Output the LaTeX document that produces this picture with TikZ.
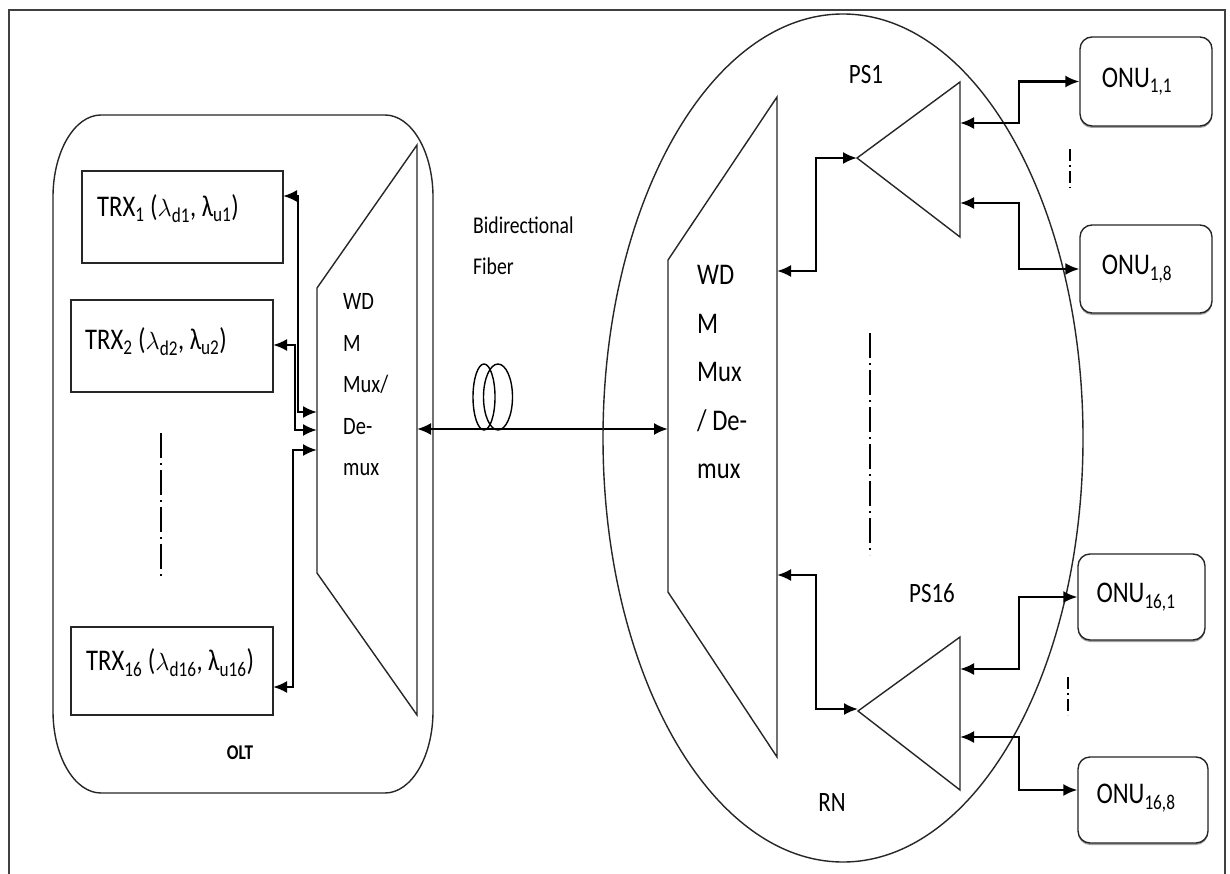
\documentclass[tikz,border=0pt]{standalone}
\usepackage{fontspec}
\setmainfont{Carlito}[FakeStretch=0.82]
\usetikzlibrary{arrows.meta,calc,shadows}
\newcommand{\fsz}[1]{\fontsize{#1}{#1}\selectfont}
\begin{document}
\begin{tikzpicture}[x=1pt,y=-1pt,
  shp/.style={draw=black!85, line width=1.4pt},
  trxbox/.style={draw=black!85, line width=1.4pt, inner sep=0pt},
  onubox/.style={draw=black!85, fill=white, line width=1.4pt, rounded corners=12pt, inner sep=0pt,
     drop shadow={shadow xshift=0pt, shadow yshift=-2pt, opacity=0.6, fill=black!60}},
  conn/.style={line width=2.2pt, {Latex[length=14pt,width=12pt]}-{Latex[length=14pt,width=12pt]}},
  dotline/.style={line width=1.4pt, dash pattern=on 25pt off 5pt on 2pt off 5pt},
  dotshort/.style={line width=1.4pt, dash pattern=on 12pt off 4pt on 2pt off 4pt},
  lbl/.style={inner sep=0pt}
]
\useasboundingbox (0,0) rectangle (1230,874);
\fill[white] (0,0) rectangle (1230,874);
% outer frame
\draw[line width=1.4pt, black!75] (9,874) -- (9,10) -- (1225,10) -- (1225,874);

% ---------------- OLT ----------------
\draw[shp] (53,197) arc[start angle=180, end angle=270, x radius=48, y radius=82]
  -- (385,115) arc[start angle=270, end angle=360, x radius=48, y radius=82]
  -- (433,711) arc[start angle=0, end angle=90, x radius=48, y radius=82]
  -- (101,793) arc[start angle=90, end angle=180, x radius=48, y radius=82] -- cycle;
\node[lbl, font=\bfseries\fsz{21}] (olt) at (240,753) {OLT};

\node[trxbox, minimum width=201pt, minimum height=92pt] (trx1) at (182.5,217) {};
\node[trxbox, minimum width=202pt, minimum height=92pt] (trx2) at (172,346) {};
\node[trxbox, minimum width=202pt, minimum height=88pt] (trx16) at (172,671) {};
\node[lbl, anchor=west, font=\fsz{30}] (trx1t) at (97,209) {TRX\textsubscript{1} ($\lambda$\textsubscript{d1}, λ\textsubscript{u1})};
\node[lbl, anchor=west, font=\fsz{30}] (trx2t) at (85,342) {TRX\textsubscript{2} ($\lambda$\textsubscript{d2}, λ\textsubscript{u2})};
\node[lbl, anchor=west, font=\fsz{30}] (trx16t) at (86,663) {TRX\textsubscript{16} ($\lambda$\textsubscript{d16}, λ\textsubscript{u16})};
\draw[dotline] (161,433) -- (161,577);

% OLT WDM
\draw[shp] (317,288) -- (417,145) -- (417,715) -- (317,573) -- cycle;
\node[lbl, anchor=west, align=left, font=\fontsize{25}{41.5}\selectfont] (wdml) at (343,385) {WD\\M\\Mux/\\De-\\mux};

\coordinate (t1p) at (283,196);
\coordinate (t2p) at (273,345);
\coordinate (t16p) at (273,687);
\coordinate (wl1) at (317,412);
\coordinate (wl2) at (317,430);
\coordinate (wl16) at (317,450);
\coordinate (wr) at (417,429);
\draw[conn] (t1p) -- ++(15,0) |- (wl1);
\draw[conn] (t2p) -- ++(22,0) |- (wl2);
\draw[conn] (t16p) -- ++(20,0) |- (wl16);

% ---------------- Fiber ----------------
\node[lbl, anchor=west, align=left, font=\fontsize{24}{41}\selectfont] (fib) at (473,246) {Bidirectional\\Fiber};
\coordinate (rl) at (668,429);
\draw[conn] (wr) -- (rl);
\draw[line width=1.4pt] (484,397) ellipse[x radius=11, y radius=33];
\draw[line width=1.4pt] (498,397) ellipse[x radius=14.5, y radius=33];

% ---------------- RN ----------------
\draw[line width=1.4pt, black!85] (843,438) ellipse[x radius=240, y radius=424];
\node[lbl, font=\fsz{28}] (rn) at (832,803) {RN};
\draw[shp] (668,260) -- (777,97) -- (777,757) -- (668,592) -- cycle;
\node[lbl, anchor=west, align=left, font=\fontsize{30}{48.5}\selectfont] (wdmr) at (697,372) {WD\\M\\Mux\\/ De-\\mux};
\draw[dotline] (870,333) -- (870,555);

% splitters
\draw[shp] (857,158) -- (960,82) -- (960,237) -- cycle;
\draw[shp] (858,711) -- (960,637) -- (960,790) -- cycle;
\node[lbl, font=\fsz{28}] (ps1) at (866,75) {PS1};
\node[lbl, font=\fsz{28}] (ps16) at (932,593) {PS16};

\coordinate (rr1) at (777,271);
\coordinate (rr16) at (777,575);
\coordinate (ps1in) at (857,158);
\coordinate (ps16in) at (858,709);
\coordinate (p1a) at (960,123);
\coordinate (p1b) at (960,203);
\coordinate (p16a) at (960,669);
\coordinate (p16b) at (960,737);
\draw[conn] (rr1) -- ++(39,0) |- (ps1in);
\draw[conn] (rr16) -- ++(39,0) |- (ps16in);

% ONUs
\node[onubox, minimum width=132pt, minimum height=89pt] (onu11) at (1146,81.5) {};
\node[onubox, minimum width=132pt, minimum height=88pt] (onu18) at (1146,269) {};
\node[onubox, minimum width=127pt, minimum height=86pt] (onu161) at (1141.5,597) {};
\node[onubox, minimum width=130pt, minimum height=86pt] (onu168) at (1143,800) {};
\node[lbl, font=\fsz{30}] (onu11t) at (1137,82) {ONU\textsubscript{1,1}};
\node[lbl, font=\fsz{30}] (onu18t) at (1137,269) {ONU\textsubscript{1,8}};
\node[lbl, font=\fsz{30}] (onu161t) at (1136,597) {ONU\textsubscript{16,1}};
\node[lbl, font=\fsz{30}] (onu168t) at (1136,798) {ONU\textsubscript{16,8}};
\coordinate (o168) at ($(onu168.west)+(0,-10)$);
\draw[conn] (p1a) -- ++(59,0) |- (onu11.west);
\draw[conn] (p1b) -- ++(59,0) |- (onu18.west);
\draw[conn] (p16a) -- ++(59,0) |- (onu161.west);
\draw[conn] (p16b) -- ++(59,0) |- (o168);
\draw[dotshort] (1070,149) -- (1070,188);
\draw[dotshort] (1068,677) -- (1068,715);
\end{tikzpicture}
\end{document}
